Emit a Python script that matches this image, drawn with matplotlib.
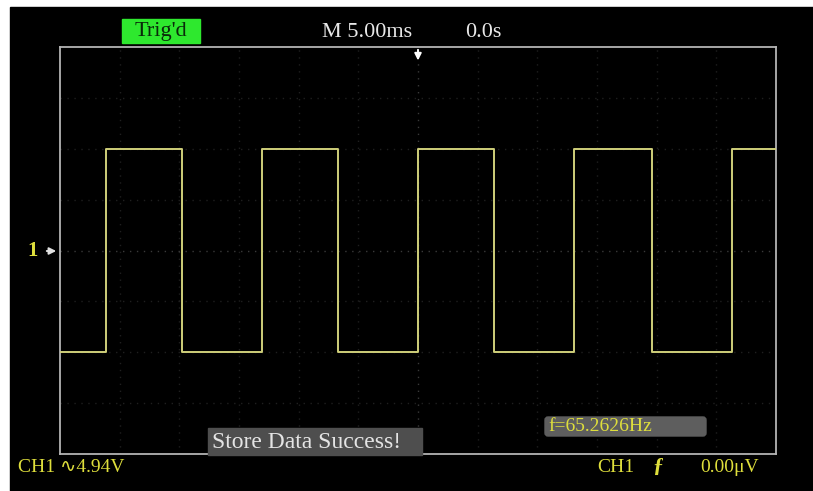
import numpy as np
import matplotlib
matplotlib.use('Agg')
import matplotlib.pyplot as plt
from matplotlib.patches import Rectangle, FancyBboxPatch

# scope settings and readouts
time_per_div = 5.0      # ms
n_hdiv = 12
n_vdiv = 8
trig_status = "Trig'd"
timebase_label = 'M 5.00ms'
delay_label = '0.0s'
freq_label = 'f=65.2626Hz'
ch1_scale_label = 'CH1 \u223f4.94V'
trig_source = 'CH1'
trig_level_label = '0.00\u03bcV'
status_msg = 'Store Data Success!'

# captured square wave: edge times in ms, levels in divisions
rise_times = [-26.15, -13.07, 0.0, 13.07, 26.3]
fall_times = [-19.78, -6.70, 6.37, 19.6]
level_high = 2.0
level_low = -2.0

# build the step trace from the edge list
edges = sorted([(t, level_high) for t in rise_times] + [(t, level_low) for t in fall_times])
t_min = -time_per_div * n_hdiv / 2
t_max = time_per_div * n_hdiv / 2
trace_t = [t_min]
trace_v = [level_low]
for t, lvl in edges:
    trace_t += [t, t]
    trace_v += [trace_v[-1], lvl]
trace_t.append(t_max)
trace_v.append(trace_v[-1])

W, H = 813, 491
fig = plt.figure(figsize=(W / 100, H / 100), dpi=100, facecolor='white')

# screen layer in pixel coordinates
bg = fig.add_axes([0, 0, 1, 1])
bg.set_xlim(0, W)
bg.set_ylim(H, 0)
bg.axis('off')
bg.add_patch(Rectangle((10, 7), W - 10, H - 7, color='black', zorder=0))

serif = ['Liberation Serif', 'DejaVu Sans']
yellow = '#dede3c'

# top status line
bg.add_patch(Rectangle((122, 19), 78, 24, color='#2ee82e', zorder=1))
bg.text(161, 31, trig_status, color='#0a2a0a', fontsize=16, family=serif,
        ha='center', va='center', zorder=2)
bg.text(322, 32, timebase_label, color='#e8e8e8', fontsize=16, family=serif,
        ha='left', va='center')
bg.text(465, 32, delay_label, color='#e8e8e8', fontsize=16, family=serif,
        ha='left', va='center')

# channel marker on the left
bg.text(33, 251, '1', color=yellow, fontsize=15, family=serif, fontweight='bold',
        ha='center', va='center')
bg.annotate('', xy=(59, 251), xytext=(44, 251),
            arrowprops=dict(arrowstyle='-|>', color='#e0e0e0', lw=1.4,
                            mutation_scale=10))

# bottom readouts
bg.text(18, 467, ch1_scale_label, color=yellow, fontsize=14, family=serif,
        ha='left', va='center')
bg.text(597, 467, trig_source, color=yellow, fontsize=14, family=serif,
        ha='left', va='center')
bg.text(658, 467, '\u0192', color=yellow, fontsize=16, family=serif,
        fontweight='bold', ha='center', va='center')
bg.text(700, 467, trig_level_label, color=yellow, fontsize=14, family=serif,
        ha='left', va='center')

# graticule area
x0, y0, x1, y1 = 60, 47, 776, 454
ax = fig.add_axes([x0 / W, 1 - y1 / H, (x1 - x0) / W, (y1 - y0) / H])
ax.set_facecolor('none')
ax.set_xlim(t_min, t_max)
ax.set_ylim(-n_vdiv / 2, n_vdiv / 2)
for s in ax.spines.values():
    s.set_color('#b4b4b4')
    s.set_linewidth(1.3)
ax.set_xticks([])
ax.set_yticks([])

grid_x = np.arange(t_min + time_per_div, t_max, time_per_div)
grid_y = np.arange(-n_vdiv / 2 + 1, n_vdiv / 2)
for gx in grid_x:
    c = '#3a3a3a' if gx == 0 else '#1f1f1f'
    ax.axvline(gx, color=c, lw=1.0, ls=(0, (1, 4)), zorder=1)
for gy in grid_y:
    c = '#3a3a3a' if gy == 0 else '#1f1f1f'
    ax.axhline(gy, color=c, lw=1.0, ls=(0, (1, 4)), zorder=1)

ax.plot(trace_t, trace_v, color='#cfcf7a', lw=1.4, zorder=3)

# trigger position marker
ax.annotate('', xy=(0, n_vdiv / 2 - 0.32), xytext=(0, n_vdiv / 2),
            arrowprops=dict(arrowstyle='-|>', color='white', lw=1.4,
                            mutation_scale=10), zorder=4)

# message boxes drawn over the graticule
top = fig.add_axes([0, 0, 1, 1])
top.set_xlim(0, W)
top.set_ylim(H, 0)
top.axis('off')
top.set_facecolor('none')
top.add_patch(FancyBboxPatch((545, 417), 161, 19, boxstyle='round,pad=0,rounding_size=3',
                             color='#5e5e5e', zorder=1))
top.text(548, 426.5, freq_label, color=yellow, fontsize=14, family=serif,
         ha='left', va='center', zorder=2)
top.add_patch(Rectangle((208, 428), 214, 27, color='#4e4e4e', zorder=1))
top.text(212, 442, status_msg, color='#e4e4e4', fontsize=17, family=serif,
         ha='left', va='center', zorder=2)

fig.savefig('out.png', dpi=100, facecolor='white')
